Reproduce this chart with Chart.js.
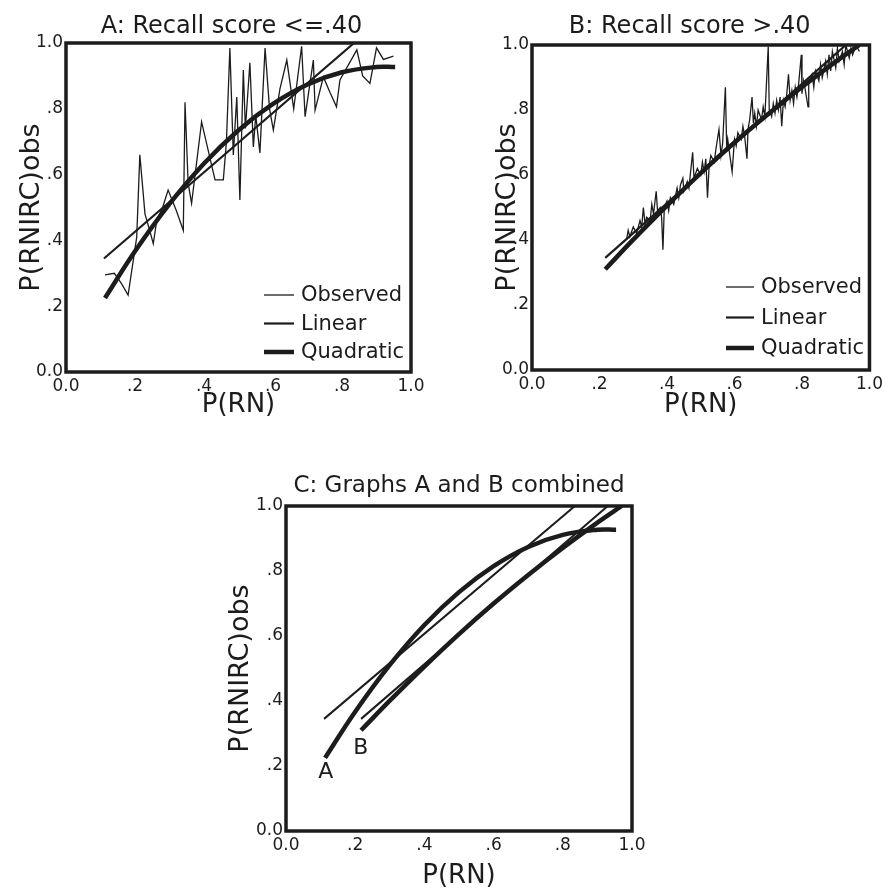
<!DOCTYPE html>
<html>
<head>
<meta charset="utf-8">
<script src="https://cdn.jsdelivr.net/npm/chart.js@4.4.1/dist/chart.umd.min.js"></script>
<style>
    html, body { margin: 0; padding: 0; background: #fff; overflow: hidden; }
    body { width: 887px; height: 890px; position: relative; }
    canvas { position: absolute; }
    #chartA { left: 17px; top: 0px; }
    #chartB { left: 493px; top: 0px; }
    #chartC { left: 226px; top: 460px; }
</style>
</head>
<body>
<canvas id="chartA" width="428" height="419"></canvas>
<canvas id="chartB" width="394" height="419"></canvas>
<canvas id="chartC" width="464" height="430"></canvas>
<script>
const tickLabels = ['0.0', '.2', '.4', '.6', '.8', '1.0']
const seriesNames = ['Observed', 'Linear', 'Quadratic']

// A: recall score <= .40
const obsAx = [0.113, 0.14, 0.16, 0.18, 0.205, 0.214, 0.229, 0.24, 0.253, 0.263, 0.28, 0.296, 0.32, 0.34, 0.345, 0.354, 0.364, 0.393, 0.432, 0.456, 0.465, 0.475, 0.485, 0.495, 0.504, 0.514, 0.52, 0.533, 0.543, 0.55, 0.562, 0.577, 0.59, 0.601, 0.62, 0.64, 0.66, 0.683, 0.693, 0.717, 0.722, 0.746, 0.765, 0.784, 0.794, 0.843, 0.86, 0.881, 0.9, 0.92, 0.949]
const obsAy = [0.295, 0.30, 0.27, 0.234, 0.41, 0.66, 0.48, 0.44, 0.39, 0.46, 0.50, 0.553, 0.49, 0.43, 0.82, 0.574, 0.513, 0.76, 0.584, 0.584, 0.70, 0.985, 0.66, 0.836, 0.523, 0.918, 0.74, 0.94, 0.684, 0.78, 0.666, 0.985, 0.80, 0.735, 0.86, 0.948, 0.80, 0.99, 0.776, 0.948, 0.796, 0.897, 0.85, 0.806, 0.888, 0.979, 0.90, 0.877, 0.985, 0.95, 0.96]
const linAx = [0.11, 0.835]
const linAy = [0.345, 1.0]
const quadAx = [0.113, 0.2, 0.3, 0.4, 0.5, 0.6, 0.7, 0.8, 0.9, 0.954]
const quadAy = [0.225, 0.367, 0.511, 0.634, 0.735, 0.815, 0.874, 0.911, 0.927, 0.927]

// B: recall score > .40
const obsBx = [0.28, 0.285, 0.29, 0.30, 0.31, 0.32, 0.325, 0.33, 0.335, 0.34,
    0.35, 0.355, 0.36, 0.368, 0.372, 0.38, 0.384, 0.388, 0.392, 0.40,
    0.405, 0.41, 0.42, 0.43, 0.435, 0.44, 0.447, 0.45, 0.46, 0.465,
    0.47, 0.476, 0.48, 0.49, 0.50, 0.505, 0.51, 0.515, 0.52, 0.525,
    0.53, 0.54, 0.545, 0.554, 0.56, 0.565, 0.573, 0.577, 0.58, 0.585,
    0.593, 0.60, 0.605, 0.61, 0.62, 0.625, 0.63, 0.637, 0.64, 0.645,
    0.652, 0.656, 0.66, 0.665, 0.67, 0.68, 0.685, 0.69, 0.70, 0.703,
    0.71, 0.715, 0.72, 0.725, 0.73, 0.735, 0.74, 0.745, 0.75, 0.755,
    0.76, 0.765, 0.77, 0.775, 0.78, 0.785, 0.79, 0.798, 0.80, 0.805,
    0.81, 0.818, 0.82, 0.83, 0.835, 0.84, 0.85, 0.855, 0.86, 0.87,
    0.875, 0.88, 0.885, 0.89, 0.90, 0.905, 0.91, 0.92, 0.925, 0.93,
    0.94, 0.945, 0.95, 0.96, 0.97]
const obsBy = [0.40, 0.43, 0.41, 0.44, 0.42, 0.46, 0.44, 0.50, 0.45, 0.47,
    0.46, 0.51, 0.48, 0.55, 0.49, 0.50, 0.47, 0.37, 0.50, 0.52,
    0.49, 0.53, 0.51, 0.56, 0.53, 0.57, 0.59, 0.55, 0.58, 0.56,
    0.61, 0.67, 0.59, 0.62, 0.60, 0.64, 0.61, 0.65, 0.53, 0.63,
    0.66, 0.64, 0.68, 0.74, 0.66, 0.70, 0.87, 0.68, 0.71, 0.67,
    0.61, 0.71, 0.69, 0.73, 0.71, 0.75, 0.72, 0.65, 0.74, 0.77,
    0.84, 0.76, 0.79, 0.75, 0.80, 0.77, 0.81, 0.78, 0.995, 0.80,
    0.78, 0.82, 0.79, 0.83, 0.80, 0.84, 0.75, 0.83, 0.81, 0.85,
    0.91, 0.83, 0.86, 0.82, 0.87, 0.84, 0.88, 0.97, 0.85, 0.89,
    0.86, 0.81, 0.88, 0.91, 0.87, 0.92, 0.89, 0.94, 0.90, 0.95,
    0.91, 0.97, 0.92, 0.98, 0.93, 0.99, 0.95, 0.98, 0.94, 1.0,
    0.96, 0.99, 0.97, 1.0, 0.98]
const linBx = [0.217, 0.93]
const linBy = [0.345, 1.0]
const quadBx = [0.217, 0.3, 0.4, 0.5, 0.6, 0.7, 0.8, 0.9, 0.97]
const quadBy = [0.31, 0.401, 0.506, 0.606, 0.70, 0.788, 0.871, 0.949, 1.0]

const ink = '#1c1c1c'
Chart.defaults.font.family = '"DejaVu Sans", sans-serif'
Chart.defaults.color = ink

const pts = (xs, ys) => xs.map((x, i) => ({ x: x, y: ys[i] }))

function line(label, xs, ys, width, smooth) {
    return {
        label: label,
        data: pts(xs, ys),
        showLine: true,
        borderColor: ink,
        borderWidth: width,
        pointRadius: 0,
        tension: smooth ? 0.4 : 0,
        borderCapStyle: 'butt',
        borderJoinStyle: 'miter'
    }
}

// heavy box round the plot area
const framePlugin = {
    id: 'frame',
    afterDatasetsDraw(chart) {
        const { ctx, chartArea: a } = chart
        ctx.save()
        ctx.strokeStyle = ink
        ctx.lineWidth = 3.5
        ctx.strokeRect(a.left, a.top, a.right - a.left, a.bottom - a.top)
        ctx.restore()
    }
}

// panel heading, centred over the plot with a small shift
const headPlugin = {
    id: 'head',
    afterDraw(chart, args, opts) {
        if (!opts.text) return
        const { ctx, chartArea: a } = chart
        ctx.save()
        ctx.font = opts.size + 'px "DejaVu Sans"'
        ctx.textAlign = 'center'
        ctx.textBaseline = 'alphabetic'
        ctx.fillStyle = ink
        ctx.fillText(opts.text, (a.left + a.right) / 2 + opts.dx, a.top - opts.rise)
        ctx.restore()
    }
}

// key in the lower right, drawn from the datasets
const keyPlugin = {
    id: 'key',
    afterDraw(chart, args, opts) {
        if (!opts.show) return
        const { ctx, chartArea: a } = chart
        ctx.save()
        ctx.font = '21px "DejaVu Sans"'
        ctx.textBaseline = 'middle'
        ctx.fillStyle = ink
        ctx.strokeStyle = ink
        chart.data.datasets.forEach((ds, i) => {
            const x = a.left + opts.dx
            const y = a.top + opts.dy + i * opts.gap
            ctx.lineWidth = ds.borderWidth
            ctx.beginPath()
            ctx.moveTo(x, y)
            ctx.lineTo(x + opts.len, y)
            ctx.stroke()
            ctx.fillText(ds.label, x + opts.len + 7, y + 1)
        })
        ctx.restore()
    }
}

// letters next to the curves in graph C
const tagPlugin = {
    id: 'tags',
    afterDraw(chart, args, opts) {
        if (!opts.items) return
        const { ctx, scales } = chart
        ctx.save()
        ctx.font = '22px "DejaVu Sans"'
        ctx.textAlign = 'center'
        ctx.textBaseline = 'middle'
        ctx.fillStyle = ink
        opts.items.forEach(t => {
            ctx.fillText(t.text, scales.x.getPixelForValue(t.x), scales.y.getPixelForValue(t.y))
        })
        ctx.restore()
    }
}

function makeChart(id, cfg) {
    return new Chart(document.getElementById(id), {
        type: 'scatter',
        data: { datasets: cfg.datasets },
        plugins: [framePlugin, headPlugin, keyPlugin, tagPlugin],
        options: {
            responsive: false,
            animation: false,
            devicePixelRatio: 1,
            layout: { padding: { left: 0, top: cfg.padTop, bottom: 0, right: cfg.padRight } },
            plugins: {
                legend: { display: false },
                title: { display: false },
                tooltip: { enabled: false },
                head: { text: cfg.title, size: cfg.titleSize, dx: cfg.titleDx, rise: cfg.titleRise },
                key: cfg.key || {},
                tags: cfg.tags || {}
            },
            scales: {
                x: {
                    type: 'linear',
                    min: 0,
                    max: 1,
                    grid: { display: false, drawTicks: false },
                    border: { display: false },
                    ticks: { stepSize: 0.2, padding: 4, font: { size: 17 }, maxRotation: 0, callback: (v, i) => tickLabels[i] },
                    title: { display: true, text: 'P(RN)', font: { size: 26, lineHeight: '28px' }, padding: 0 },
                    afterFit: s => { s.height = cfg.xH }
                },
                y: {
                    type: 'linear',
                    min: 0,
                    max: 1,
                    grid: { display: false, drawTicks: false },
                    border: { display: false },
                    ticks: { stepSize: 0.2, padding: 3, font: { size: 17 }, callback: (v, i) => tickLabels[i] },
                    title: { display: true, text: 'P(RNIRC)obs', font: { size: 27, lineHeight: '30px' }, padding: 0 },
                    afterFit: s => { s.width = cfg.yW }
                }
            }
        }
    })
}

makeChart('chartA', {
    title: 'A: Recall score <=.40', titleSize: 24, titleDx: -7, titleRise: 10,
    padTop: 43, yW: 49, xH: 47, padRight: 34,
    datasets: [
        line(seriesNames[0], obsAx, obsAy, 1.3, false),
        line(seriesNames[1], linAx, linAy, 2.2, false),
        line(seriesNames[2], quadAx, quadAy, 4.5, true)
    ],
    key: { show: true, dx: 198, dy: 252, gap: 28.5, len: 30 }
})

makeChart('chartB', {
    title: 'B: Recall score >.40', titleSize: 24, titleDx: -11, titleRise: 12,
    padTop: 45, yW: 39, xH: 49, padRight: 15,
    datasets: [
        line(seriesNames[0], obsBx, obsBy, 1.3, false),
        line(seriesNames[1], linBx, linBy, 2.2, false),
        line(seriesNames[2], quadBx, quadBy, 4.5, true)
    ],
    key: { show: true, dx: 194, dy: 242, gap: 30.5, len: 28 }
})

makeChart('chartC', {
    title: 'C: Graphs A and B combined', titleSize: 23, titleDx: 0, titleRise: 14,
    padTop: 46, yW: 60, xH: 59, padRight: 58,
    datasets: [
        line('A ' + seriesNames[1], linAx, linAy, 2, false),
        line('A ' + seriesNames[2], quadAx, quadAy, 4.5, true),
        line('B ' + seriesNames[1], linBx, linBy, 2, false),
        line('B ' + seriesNames[2], quadBx, quadBy, 4.5, true)
    ],
    tags: { items: [{ text: 'A', x: 0.115, y: 0.18 }, { text: 'B', x: 0.216, y: 0.255 }] }
})
</script>
</body>
</html>
